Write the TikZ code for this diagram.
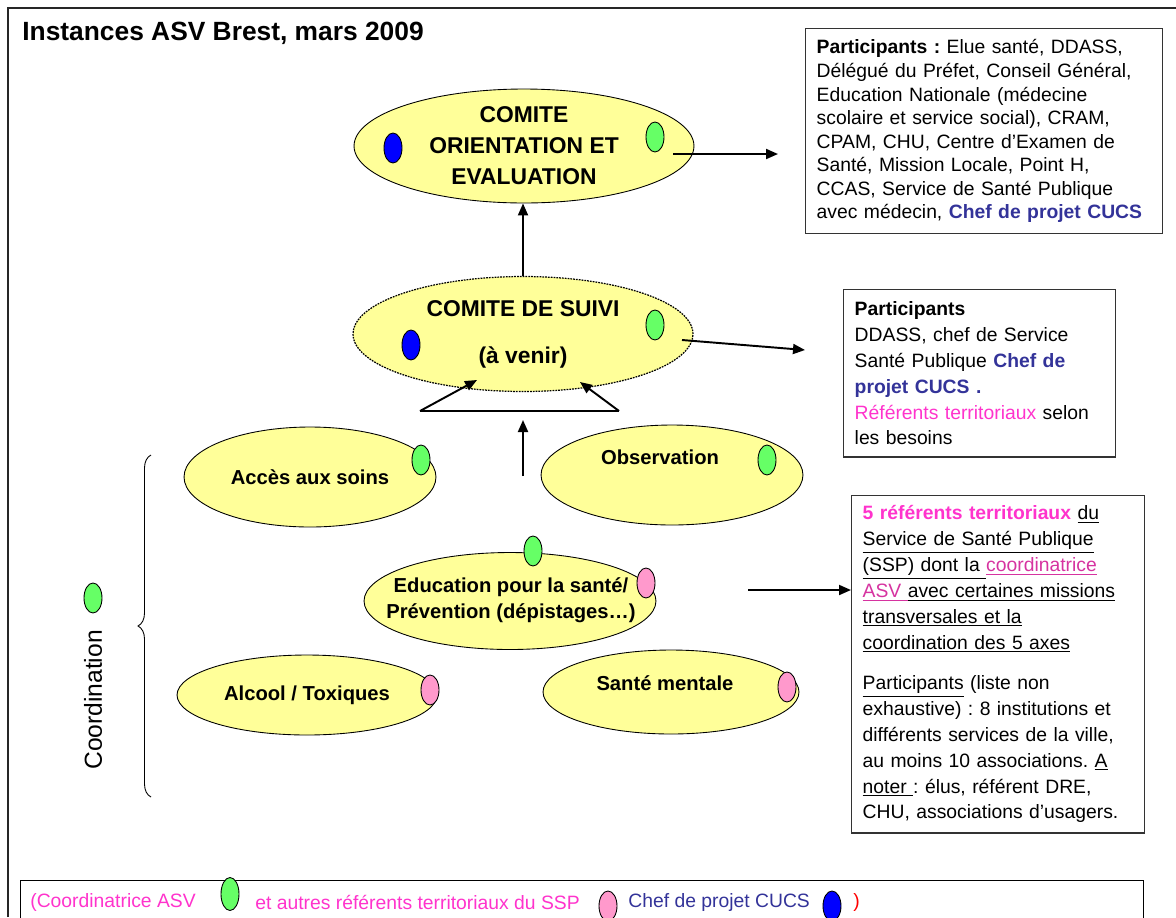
\documentclass[tikz,border=0pt]{standalone}
\usepackage{fontspec}
\setmainfont{Liberation Sans}
\frenchspacing
\usetikzlibrary{arrows.meta, shapes.geometric, decorations.pathreplacing}

\definecolor{jaune}{RGB}{255,255,153}
\definecolor{vert}{RGB}{102,255,102}
\definecolor{rose}{RGB}{255,153,204}
\definecolor{bleu}{RGB}{0,0,255}
\definecolor{cucs}{RGB}{51,51,153}
\definecolor{referent}{RGB}{255,51,204}
\definecolor{coordo}{RGB}{214,51,160}

\tikzset{
  comite/.style={ellipse, draw, fill=jaune, line width=0.5pt, minimum width=6.8cm,
    minimum height=2.28cm, inner sep=0pt, align=center,
    font=\fontsize{13}{17.6}\selectfont\bfseries},
  axe/.style={ellipse, draw, fill=jaune, line width=0.5pt, inner sep=0pt, align=center,
    font=\fontsize{11.5}{14.7}\selectfont\bfseries},
  axetxt/.style={inner sep=0pt, align=center, font=\fontsize{11.5}{14.7}\selectfont\bfseries},
  pastille/.style={ellipse, draw, line width=0.5pt, minimum width=0.36cm,
    minimum height=0.6cm, inner sep=0pt},
  fleche/.style={-{Triangle[length=0.24cm, width=0.2cm]}, line width=1.1pt},
  cadre/.style={draw=black!80, line width=0.8pt, anchor=north west, align=left,
    inner xsep=0.22cm, font=\fontsize{11}{14.7}\selectfont},
  legtxt/.style={anchor=west, inner sep=0pt, font=\fontsize{11}{13}\selectfont},
}

\begin{document}
\begin{tikzpicture}[x=0.02cm, y=-0.02cm]
  \useasboundingbox (0, 0) rectangle (1176, 917);
  \clip (0, 0) rectangle (1176, 917);

  % Frame and title
  \draw[line width=0.8pt, black!85] (8, 917) -- (8, 8) -- (1176, 8);
  \node[anchor=west, inner sep=0pt, font=\fontsize{15}{18}\selectfont\bfseries] (titre) at (22, 33)
    {Instances ASV Brest, mars 2009};

  % Comites
  \node[comite] (orientation) at (524, 146) {COMITE\\ORIENTATION ET\\EVALUATION};
  \node[comite, dash pattern=on 1pt off 0.6pt, line width=0.7pt, minimum height=2.3cm]
    (suivi) at (523, 334) {COMITE DE SUIVI\\[0.32cm](à venir)};

  \node[pastille, fill=bleu] (orientation-cucs) at (393, 148) {};
  \node[pastille, fill=vert] (orientation-asv) at (655, 137) {};
  \node[pastille, fill=bleu] (suivi-cucs) at (411, 345) {};
  \node[pastille, fill=vert] (suivi-asv) at (655, 325) {};

  % Axes
  \node[axe, minimum width=5.04cm, minimum height=2cm] (acces) at (310, 477) {Accès aux soins};
  \node[axe, minimum width=5.24cm, minimum height=2cm] (observation) at (672, 475) {};
  \node[axetxt] (observation-txt) at (660, 457) {Observation};
  \node[axe, minimum width=5.84cm, minimum height=1.94cm] (education) at (510, 601) {};
  \node[axetxt] (education-txt) at (511, 600) {Education pour la santé/\\Prévention (dépistages…)};
  \node[axe, minimum width=5.2cm, minimum height=1.6cm] (alcool) at (307, 695) {Alcool / Toxiques};
  \node[axe, minimum width=5.12cm, minimum height=1.68cm] (mentale) at (671, 692) {};
  \node[axetxt] (mentale-txt) at (665, 683) {Santé mentale};

  \node[pastille, fill=vert] (acces-asv) at (421, 460) {};
  \node[pastille, fill=vert] (observation-asv) at (767, 460) {};
  \node[pastille, fill=vert] (education-asv) at (533, 551) {};
  \node[pastille, fill=rose] (education-ref) at (646, 583) {};
  \node[pastille, fill=rose] (alcool-ref) at (430, 690) {};
  \node[pastille, fill=rose] (mentale-ref) at (787, 687) {};

  % Coordination
  \node[pastille, fill=vert] (coordination-asv) at (93, 598) {};
  \node[rotate=90, font=\fontsize{14}{16}\selectfont] (coordination) at (93, 700) {Coordination};
  \coordinate (accolade-bas) at (151, 797);
  \coordinate (accolade-haut) at (151, 455);
  \draw[decorate, decoration={brace, amplitude=0.26cm}, line width=0.5pt]
    (accolade-bas) -- (accolade-haut);

  % Participants
  \node[cadre, text width=6.7cm, inner ysep=0.22cm, font=\fontsize{11}{13.4}\selectfont]
    (part-orientation) at (805, 28) {%
    \textbf{Participants :} Elue santé, DDASS,\\
    Délégué du Préfet, Conseil Général,\\
    Education Nationale (médecine\\
    scolaire et service social), CRAM,\\
    CPAM, CHU, Centre d’Examen de\\
    Santé, Mission Locale, Point H,\\
    CCAS, Service de Santé Publique\\
    avec médecin, \textcolor{cucs}{\textbf{Chef de projet CUCS}}};

  \node[cadre, text width=5cm, inner ysep=0.24cm] (part-suivi) at (843, 289) {%
    \textbf{Participants}\\
    DDASS, chef de Service\\
    Santé Publique \textcolor{cucs}{\textbf{Chef de}}\\
    \textcolor{cucs}{\textbf{projet CUCS .}}\\
    \textcolor{referent}{Référents territoriaux} selon\\
    les besoins};

  \node[cadre, text width=5.42cm, inner ysep=0.2cm] (referents) at (851, 495) {%
    \textcolor{referent}{\textbf{5 référents territoriaux}} \underline{du}\\
    \underline{Service de Santé Publique}\\
    \underline{(SSP) dont la }\textcolor{coordo}{\underline{coordinatrice}}\\
    \textcolor{coordo}{\underline{ASV }}\underline{avec certaines missions}\\
    \underline{transversales et la}\\
    \underline{coordination des 5 axes}\\[0.3cm]
    \underline{Participants} (liste non\\
    exhaustive) : 8 institutions et\\
    différents services de la ville,\\
    au moins 10 associations. \underline{A}\\
    \underline{noter }: élus, référent DRE,\\
    CHU, associations d’usagers.};

  % Arrows
  \draw[fleche] (suivi.north) -- (suivi.north |- orientation.south);

  \coordinate (orientation-out) at (673, 154);
  \coordinate (orientation-in) at (778, 154);
  \draw[fleche] (orientation-out) -- (orientation-in);

  \coordinate (suivi-out) at (682, 340);
  \coordinate (suivi-in) at (805, 350);
  \draw[fleche] (suivi-out) -- (suivi-in);

  \coordinate (triangle-g) at (420, 411);
  \coordinate (triangle-d) at (619, 411);
  \coordinate (suivi-g) at (477, 380);
  \coordinate (suivi-d) at (580, 382);
  \draw[line width=1.1pt] (triangle-g) -- (triangle-d);
  \draw[fleche] (triangle-g) -- (suivi-g);
  \draw[fleche] (triangle-d) -- (suivi-d);

  \coordinate (axes-bas) at (523, 476);
  \coordinate (axes-haut) at (523, 420);
  \draw[fleche] (axes-bas) -- (axes-haut);

  \coordinate (education-out) at (748, 590);
  \draw[fleche] (education-out) -- (education-out -| referents.west);

  % Legend
  \node[draw, line width=0.8pt, anchor=north west, minimum width=22.46cm, minimum height=1.2cm]
    (legende) at (20, 880) {};
  \node[legtxt, text=referent] (legende-asv) at (30, 902) {(Coordinatrice ASV};
  \node[pastille, fill=vert, minimum height=0.66cm] (legende-vert) at (230, 894) {};
  \node[legtxt, text=referent] (legende-ssp) at (255, 902) {et autres référents territoriaux du SSP};
  \node[pastille, fill=rose] (legende-rose) at (608, 906) {};
  \node[legtxt, text=cucs] (legende-cucs) at (628, 902) {Chef de projet CUCS};
  \node[pastille, fill=bleu] (legende-bleu) at (832, 906) {};
  \node[legtxt, text=red] (legende-fin) at (853, 902) {)};
\end{tikzpicture}
\end{document}
